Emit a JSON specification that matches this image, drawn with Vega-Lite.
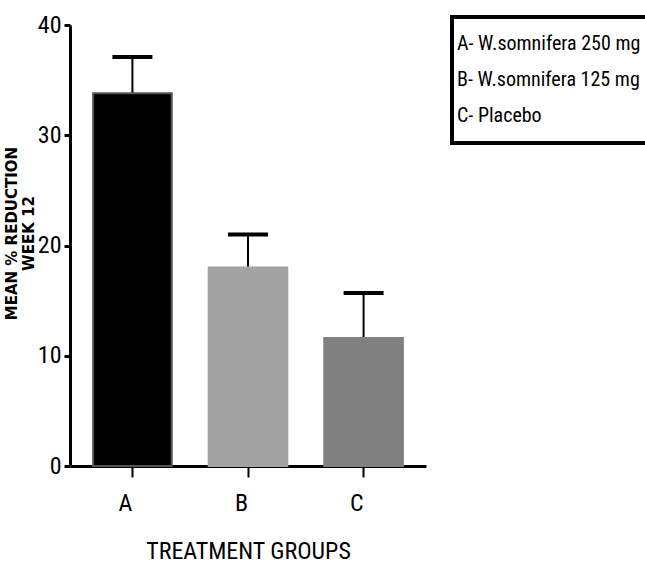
{
  "$schema": "https://vega.github.io/schema/vega-lite/v6.json",
  "autosize": "none",
  "width": 356,
  "height": 441,
  "padding": {"left": 70, "top": 25, "right": 219, "bottom": 99},
  "background": "white",
  "config": {"view": {"stroke": null}, "legend": {"strokeWidth": 4}},
  "data": {"values": [
    {"group": "A", "desc": "A- W.somnifera 250 mg", "mean": 33.8, "upper": 37.1},
    {"group": "B", "desc": "B- W.somnifera 125 mg", "mean": 18.0, "upper": 21.0},
    {"group": "C", "desc": "C- Placebo", "mean": 11.6, "upper": 15.7}
  ]},
  "layer": [
    {
      "mark": {"type": "rule", "color": "black", "strokeWidth": 2},
      "encoding": {
        "x": {"field": "group", "type": "nominal"},
        "y": {"field": "mean", "type": "quantitative"},
        "y2": {"field": "upper"}
      }
    },
    {
      "mark": {"type": "tick", "color": "black", "thickness": 4, "size": 40, "opacity": 1},
      "encoding": {
        "x": {"field": "group", "type": "nominal"},
        "y": {"field": "upper", "type": "quantitative"}
      }
    },
    {
      "mark": {"type": "bar", "strokeWidth": 2, "opacity": 1},
      "encoding": {
        "x": {
          "field": "group", "type": "nominal",
          "scale": {"paddingInner": 0.32, "paddingOuter": 0.2},
          "axis": {
            "title": "TREATMENT GROUPS",
            "titleFont": "'Roboto Condensed', 'DejaVu Sans Condensed', sans-serif",
            "titleFontSize": 24,
            "titleFontWeight": "normal",
            "titleColor": "black",
            "titlePadding": 24,
            "labelAngle": 0,
            "labelFont": "'Roboto Condensed', 'DejaVu Sans Condensed', sans-serif",
            "labelFontSize": 24,
            "labelColor": "black",
            "labelPadding": 26,
            "domainColor": "black",
            "domainWidth": 3,
            "tickColor": "black",
            "tickWidth": 2,
            "tickSize": 11
          }
        },
        "y": {
          "field": "mean", "type": "quantitative",
          "scale": {"domain": [0, 40], "nice": false},
          "axis": {
            "values": [0, 10, 20, 30, 40],
            "grid": false,
            "title": ["MEAN % REDUCTION", "WEEK 12"],
            "titleFont": "DejaVu Sans",
            "titleFontSize": 15,
            "titleFontWeight": "bold",
            "titleColor": "black",
            "titleLineHeight": 17,
            "titlePadding": 1,
            "titleY": 208,
            "labelFont": "'Roboto Condensed', 'DejaVu Sans Condensed', sans-serif",
            "labelFontSize": 24,
            "labelColor": "black",
            "labelPadding": 3,
            "domainColor": "black",
            "domainWidth": 3,
            "tickColor": "black",
            "tickWidth": 3,
            "tickSize": 6
          }
        },
        "stroke": {
          "field": "desc", "type": "nominal",
          "scale": {
            "domain": ["A- W.somnifera 250 mg", "B- W.somnifera 125 mg", "C- Placebo"],
            "range": ["#555555", "#a3a3a3", "#808080"]
          },
          "legend": null
        },
        "color": {
          "field": "desc", "type": "nominal",
          "scale": {
            "domain": ["A- W.somnifera 250 mg", "B- W.somnifera 125 mg", "C- Placebo"],
            "range": ["#000000", "#a3a3a3", "#808080"]
          },
          "legend": {
            "title": null,
            "orient": "none",
            "legendX": 382,
            "legendY": -8,
            "symbolSize": 0,
            "symbolStrokeWidth": 0,
            "symbolOpacity": 0,
            "labelOffset": -24,
            "labelFont": "'Roboto Condensed', 'DejaVu Sans Condensed', sans-serif",
            "labelFontSize": 20,
            "labelColor": "black",
            "labelLimit": 400,
            "clipHeight": 36,
            "rowPadding": 0,
            "padding": 9,
            "strokeColor": "black",
            "fillColor": "white"
          }
        }
      }
    }
  ]
}
